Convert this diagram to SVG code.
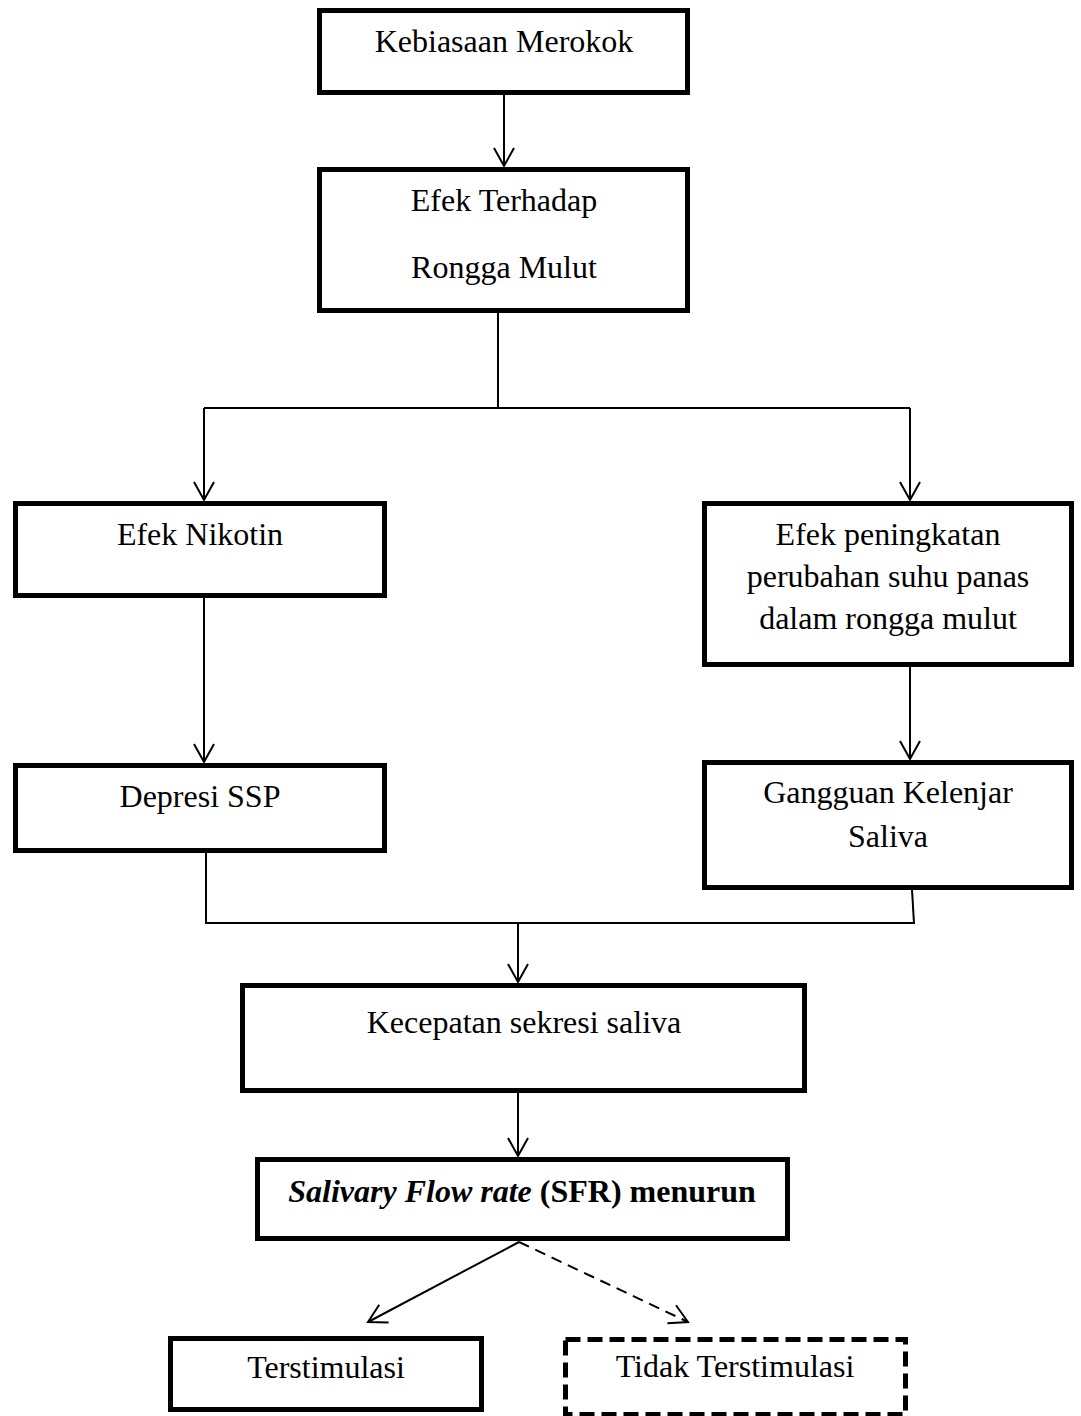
<svg xmlns="http://www.w3.org/2000/svg" width="1081" height="1416" viewBox="0 0 1081 1416">
<style>
.box{fill:#fff;stroke:#000;stroke-width:5}
.dbox{fill:#fff;stroke:#000;stroke-width:5;stroke-dasharray:15 7}
.t{font-family:"Liberation Serif","Times New Roman",serif;font-size:32px;fill:#000;text-anchor:middle}
.c{fill:none;stroke:#000;stroke-width:2}
.ca{fill:none;stroke:#000;stroke-width:2;marker-end:url(#arr)}
.cd{fill:none;stroke:#000;stroke-width:2;stroke-dasharray:11 7;marker-end:url(#arr)}
</style>
<defs>
<marker id="arr" markerUnits="userSpaceOnUse" markerWidth="26" markerHeight="26" refX="22" refY="12" orient="auto" overflow="visible">
<path d="M4,2 L22,12 L4,22" fill="none" stroke="#000" stroke-width="2"/>
</marker>
</defs>
<rect width="1081" height="1416" fill="#fff"/>
<g id="connectors">
<line class="ca" x1="504" y1="95" x2="504" y2="166"/>
<line class="c" x1="498" y1="313" x2="498" y2="408"/>
<line class="c" x1="204" y1="408" x2="910" y2="408"/>
<line class="ca" x1="204" y1="408" x2="204" y2="500"/>
<line class="ca" x1="910" y1="408" x2="910" y2="500"/>
<line class="ca" x1="204" y1="598" x2="204" y2="762"/>
<line class="ca" x1="910" y1="667" x2="910" y2="759"/>
<line class="c" x1="206" y1="853" x2="206" y2="923"/>
<line class="c" x1="912" y1="890" x2="914" y2="923"/>
<line class="c" x1="205" y1="923" x2="915" y2="923"/>
<line class="ca" x1="518" y1="923" x2="518" y2="982"/>
<line class="ca" x1="518" y1="1093" x2="518" y2="1156"/>
<line class="ca" x1="519" y1="1242" x2="368" y2="1322"/>
<line class="cd" x1="519" y1="1242" x2="688" y2="1322"/>
</g>
<g id="n1"><rect class="box" x="319.5" y="10.5" width="368" height="82"/><text class="t" x="504" y="52">Kebiasaan Merokok</text></g>
<g id="n2"><rect class="box" x="319.5" y="169.5" width="368" height="141"/><text class="t" x="504" y="211">Efek Terhadap</text><text class="t" x="504" y="278">Rongga Mulut</text></g>
<g id="n3"><rect class="box" x="15.5" y="503.5" width="369" height="92"/><text class="t" x="200" y="545">Efek Nikotin</text></g>
<g id="n4"><rect class="box" x="704.5" y="503.5" width="367" height="161"/><text class="t" x="888" y="545">Efek peningkatan</text><text class="t" x="888" y="587">perubahan suhu panas</text><text class="t" x="888" y="629">dalam rongga mulut</text></g>
<g id="n5"><rect class="box" x="15.5" y="765.5" width="369" height="85"/><text class="t" x="200" y="807">Depresi SSP</text></g>
<g id="n6"><rect class="box" x="704.5" y="762.5" width="367" height="125"/><text class="t" x="888" y="803">Gangguan Kelenjar</text><text class="t" x="888" y="847">Saliva</text></g>
<g id="n7"><rect class="box" x="242.5" y="985.5" width="562" height="105"/><text class="t" x="524" y="1033">Kecepatan sekresi saliva</text></g>
<g id="n8"><rect class="box" x="257.5" y="1159.5" width="530" height="79"/><text class="t" x="522" y="1202" font-weight="bold"><tspan font-style="italic">Salivary Flow rate</tspan> (SFR) menurun</text></g>
<g id="n9"><rect class="box" x="170.5" y="1338.5" width="311" height="71"/><text class="t" x="326" y="1378">Terstimulasi</text></g>
<g id="n10"><rect class="dbox" x="565.5" y="1339.5" width="340" height="75"/><text class="t" x="735" y="1377">Tidak Terstimulasi</text></g>
</svg>
